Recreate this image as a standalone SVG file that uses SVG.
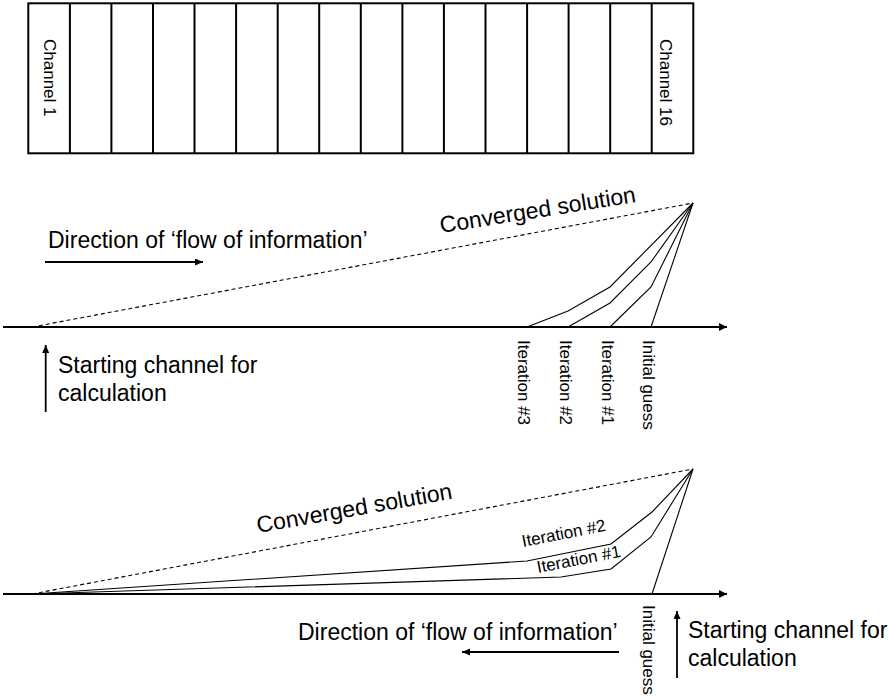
<svg xmlns="http://www.w3.org/2000/svg" width="889" height="698" viewBox="0 0 889 698">
<style>
text{font-family:"Liberation Sans",Arial,sans-serif;fill:#000}
.big{font-size:23px}
.sm{font-size:17px}
.box{fill:none;stroke:#000;stroke-width:2}
.ax{stroke:#000;stroke-width:1.8;fill:none}
.thin{stroke:#000;stroke-width:1.1;fill:none}
.dash{stroke:#000;stroke-width:1.1;fill:none;stroke-dasharray:4,3}
</style>
<defs>
<marker id="ah" markerUnits="userSpaceOnUse" markerWidth="10" markerHeight="10" refX="8" refY="4" orient="auto">
<path d="M0,0 L8,4 L0,8 z" fill="#000"/>
</marker>
<marker id="ahs" markerUnits="userSpaceOnUse" markerWidth="10" markerHeight="10" refX="8" refY="3.5" orient="auto">
<path d="M0,0 L8,3.5 L0,7 z" fill="#000"/>
</marker>
</defs>
<g id="channels">
<rect class="box" x="28.3" y="3.3" width="665" height="150"/>
<path class="box" d="M69.9,3.3V153.3M111.4,3.3V153.3M153,3.3V153.3M194.5,3.3V153.3M236.1,3.3V153.3M277.7,3.3V153.3M319.2,3.3V153.3M360.8,3.3V153.3M402.4,3.3V153.3M443.9,3.3V153.3M485.5,3.3V153.3M527.1,3.3V153.3M568.6,3.3V153.3M610.2,3.3V153.3M651.7,3.3V153.3"/>
<text class="sm" transform="translate(44,39) rotate(90)">Channel 1</text>
<text class="sm" transform="translate(660,39) rotate(90)">Channel 16</text>
</g>
<g id="connectors">
<!-- middle panel -->
<line class="ax" x1="3" y1="327" x2="727" y2="327" marker-end="url(#ah)"/>
<line class="dash" x1="32" y1="327" x2="693" y2="203"/>
<polyline class="thin" points="527,327 568,311 610,287 693,203"/>
<polyline class="thin" points="568,327 610,303 651,262 693,203"/>
<polyline class="thin" points="610,327 651,287 693,203"/>
<polyline class="thin" points="651,327 693,203"/>
<line class="ax" x1="45" y1="262" x2="203" y2="262" stroke-width="1.5" marker-end="url(#ahs)"/>
<line class="ax" x1="45.7" y1="412" x2="45.7" y2="345" stroke-width="1.5" marker-end="url(#ahs)"/>
<!-- bottom panel -->
<line class="ax" x1="3" y1="594" x2="727" y2="594" marker-end="url(#ah)"/>
<line class="dash" x1="32" y1="594" x2="693" y2="469"/>
<polyline class="thin" points="32,594 527,561 611,544 652,512 693,469"/>
<polyline class="thin" points="32,594 561,577 611,569 651,537 693,469"/>
<polyline class="thin" points="652,594 693,469"/>
<line class="ax" x1="619" y1="652" x2="462" y2="652" stroke-width="1.5" marker-end="url(#ahs)"/>
<line class="ax" x1="677" y1="678" x2="677" y2="611" stroke-width="1.5" marker-end="url(#ahs)"/>
</g>
<g id="middle-labels">
<text class="big" x="48" y="248">Direction of ‘flow of information’</text>
<text class="big" transform="translate(441,233) rotate(-9)">Converged solution</text>
<text class="big" x="58" y="373">Starting channel for</text>
<text class="big" x="58" y="401">calculation</text>
<text class="sm" transform="translate(518,340) rotate(90)">Iteration #3</text>
<text class="sm" transform="translate(560,340) rotate(90)">Iteration #2</text>
<text class="sm" transform="translate(602,340) rotate(90)">Iteration #1</text>
<text class="sm" transform="translate(643,340) rotate(90)">Initial guess</text>
</g>
<g id="bottom-labels">
<text class="big" transform="translate(258,533) rotate(-10)">Converged solution</text>
<text class="sm" transform="translate(523,547) rotate(-11)">Iteration #2</text>
<text class="sm" transform="translate(538,573) rotate(-11)">Iteration #1</text>
<text class="sm" transform="translate(643,605) rotate(90)">Initial guess</text>
<text class="big" x="298" y="640">Direction of ‘flow of information’</text>
<text class="big" x="688" y="638">Starting channel for</text>
<text class="big" x="688" y="666">calculation</text>
</g>
</svg>
